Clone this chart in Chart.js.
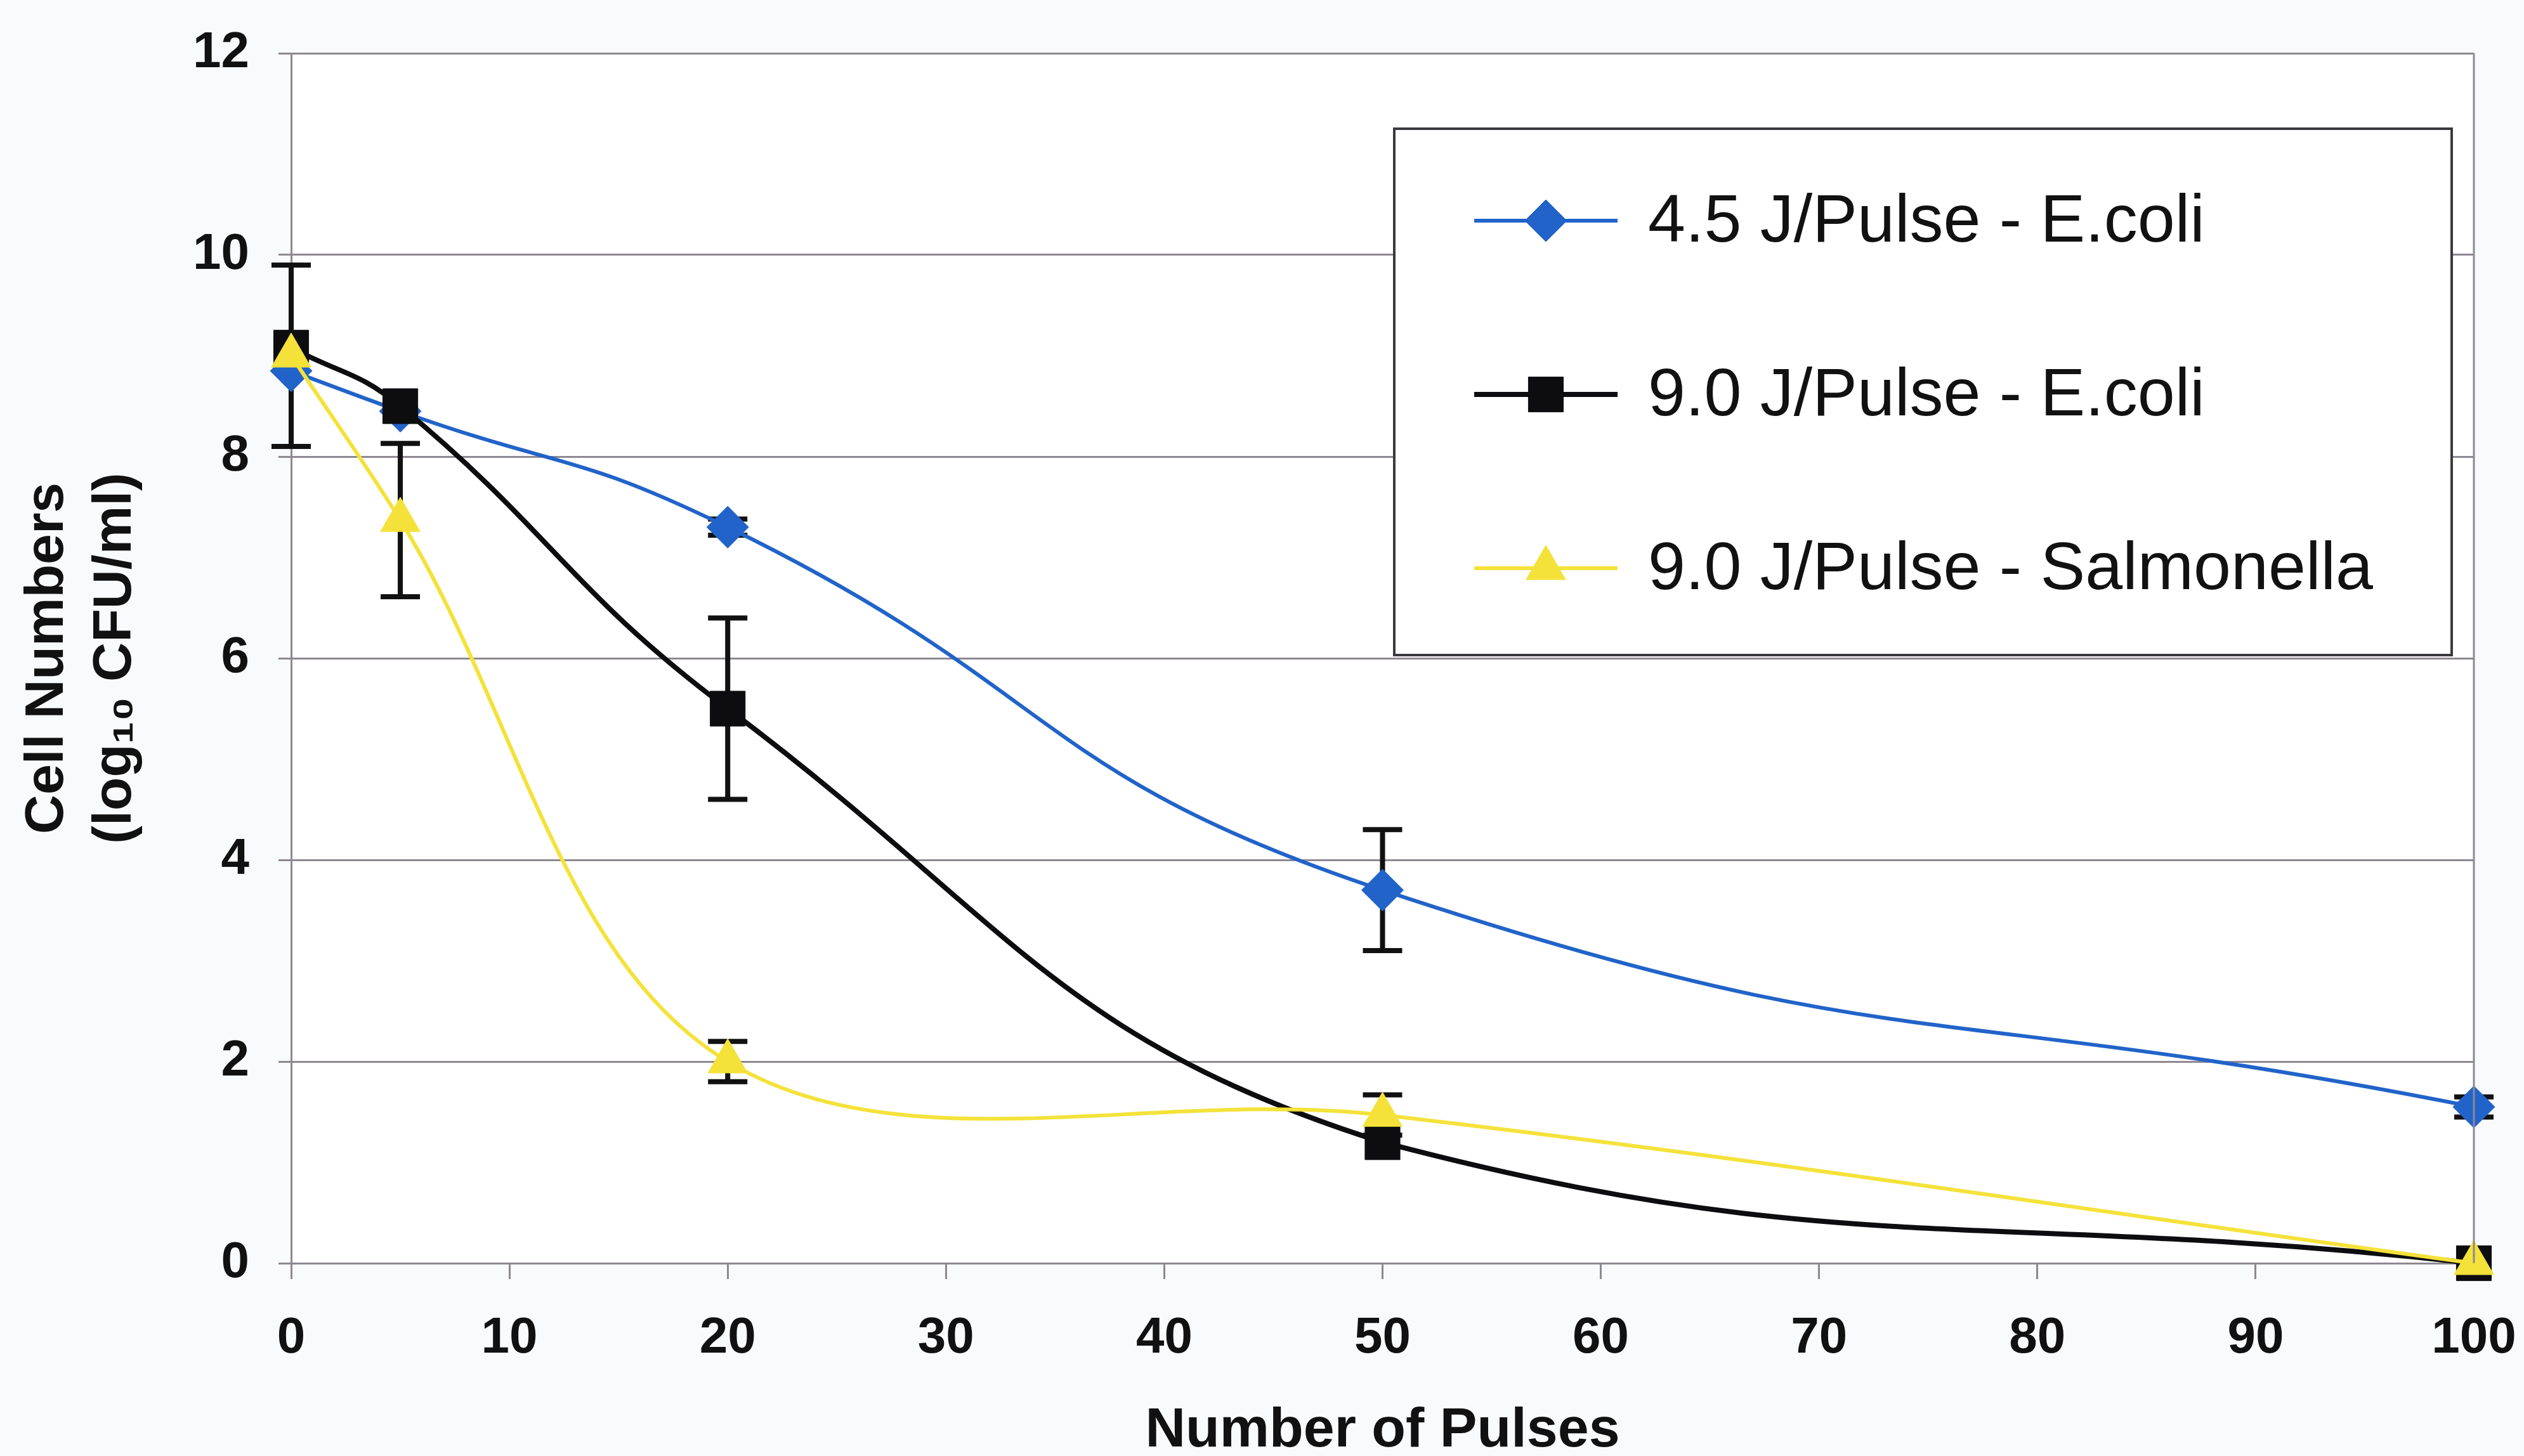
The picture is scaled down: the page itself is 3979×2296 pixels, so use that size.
<!DOCTYPE html>
<html>
<head>
<meta charset="utf-8">
<title>Cell Numbers vs Number of Pulses</title>
<script src="https://cdn.jsdelivr.net/npm/chart.js@4/dist/chart.umd.min.js"></script>
<style>
  html, body { margin: 0; padding: 0; background: #f9fafc; }
  #wrap { width: 3979px; height: 2296px; }
</style>
</head>
<body>
<div id="wrap"><canvas id="chart" width="3979" height="2296"></canvas></div>
<script>
// Number of pulses applied
const pulses = [0, 5, 20, 50, 100];

// Surviving cells, log10 CFU/ml
const ecoli45 = [8.85, 8.45, 7.3, 3.7, 1.55];
const ecoli90 = [9.08, 8.5, 5.5, 1.2, 0];
const salmonella90 = [9.0, 7.37, 2.0, 1.47, 0];

// Standard deviation shown as error bars (null = no bar)
const ecoli45Err = [null, null, 0.08, 0.6, 0.1];
const ecoli90Err = [null, null, 0.9, null, null];
const salmonella90Err = [0.9, 0.76, 0.2, 0.2, null];

const seriesLabels = ['4.5 J/Pulse - E.coli', '9.0 J/Pulse - E.coli', '9.0 J/Pulse - Salmonella'];

const xTicks = [0, 10, 20, 30, 40, 50, 60, 70, 80, 90, 100];
const yTicks = [0, 2, 4, 6, 8, 10, 12];

const BLUE = '#2163c9';
const BLACK = '#0d0d0f';
const YELLOW = '#f4e23a';
const GRID = '#8e8892';
const FONT = '"Liberation Sans", Arial, Helvetica, sans-serif';

const toPoints = (ys) => pulses.map((x, i) => ({ x: x, y: ys[i] }));

function makeSeries(label, ys, errs, color, width, style, radius, order, tension) {
  return {
    label: label,
    data: toPoints(ys),
    errors: errs,
    borderColor: color,
    backgroundColor: color,
    borderWidth: width,
    pointStyle: style,
    pointRadius: radius,
    pointHoverRadius: radius,
    pointBackgroundColor: color,
    pointBorderColor: color,
    pointBorderWidth: 1,
    tension: tension,
    fill: false,
    clip: false,
    order: order
  };
}

// Background fill behind everything, plus the right edge of the plot frame
const backdrop = {
  id: 'backdrop',
  beforeDraw(chart) {
    const ctx = chart.ctx;
    ctx.save();
    ctx.fillStyle = '#f9fafc';
    ctx.fillRect(0, 0, chart.width, chart.height);
    const a = chart.chartArea;
    ctx.fillStyle = '#ffffff';
    ctx.fillRect(a.left, a.top, a.right - a.left, a.bottom - a.top);
    ctx.restore();
  },
  afterDraw(chart) {
    const a = chart.chartArea;
    const ctx = chart.ctx;
    ctx.save();
    ctx.strokeStyle = GRID;
    ctx.lineWidth = 3;
    ctx.beginPath();
    ctx.moveTo(a.right, a.top);
    ctx.lineTo(a.right, a.bottom);
    ctx.stroke();
    ctx.restore();
  }
};

// Vertical error bars with caps, drawn underneath the series
const errorBars = {
  id: 'errorBars',
  beforeDatasetsDraw(chart) {
    const ctx = chart.ctx;
    const xs = chart.scales.x, ys = chart.scales.y;
    ctx.save();
    ctx.strokeStyle = '#111111';
    ctx.lineCap = 'butt';
    ctx.lineWidth = 8;
    chart.data.datasets.forEach((ds) => {
      (ds.errors || []).forEach((e, i) => {
        if (e === null || e === undefined) return;
        const p = ds.data[i];
        const px = xs.getPixelForValue(p.x);
        const top = ys.getPixelForValue(p.y + e);
        const bot = ys.getPixelForValue(p.y - e);
        ctx.beginPath();
        ctx.moveTo(px, top);
        ctx.lineTo(px, bot);
        ctx.moveTo(px - 31, top);
        ctx.lineTo(px + 31, top);
        ctx.moveTo(px - 31, bot);
        ctx.lineTo(px + 31, bot);
        ctx.stroke();
      });
    });
    ctx.restore();
  }
};

// Boxed legend placed inside the upper right of the plot
const boxLegend = {
  id: 'boxLegend',
  afterDraw(chart, args, opts) {
    const ctx = chart.ctx;
    const b = opts.box;
    ctx.save();
    ctx.fillStyle = '#ffffff';
    ctx.fillRect(b.x, b.y, b.w, b.h);
    ctx.strokeStyle = '#3a3a3e';
    ctx.lineWidth = 4;
    ctx.strokeRect(b.x, b.y, b.w, b.h);
    ctx.font = opts.fontSize + 'px ' + FONT;
    ctx.textBaseline = 'middle';
    ctx.textAlign = 'left';
    chart.data.datasets.forEach((ds, i) => {
      const cy = b.y + opts.firstRow + i * opts.rowGap;
      const x0 = b.x + opts.lineStart;
      const x1 = b.x + opts.lineEnd;
      ctx.strokeStyle = ds.borderColor;
      ctx.lineWidth = ds.borderWidth;
      ctx.beginPath();
      ctx.moveTo(x0, cy);
      ctx.lineTo(x1, cy);
      ctx.stroke();
      ctx.fillStyle = ds.pointBackgroundColor;
      ctx.strokeStyle = ds.pointBorderColor;
      ctx.lineWidth = 1;
      Chart.helpers.drawPoint(ctx, { pointStyle: ds.pointStyle, radius: ds.pointRadius, rotation: 0, borderWidth: 1 }, (x0 + x1) / 2, cy);
      ctx.fillStyle = '#111111';
      ctx.fillText(ds.label, b.x + opts.textStart, cy + 4);
    });
    ctx.restore();
  }
};

new Chart(document.getElementById('chart'), {
  type: 'line',
  data: {
    datasets: [
      makeSeries(seriesLabels[0], ecoli45, ecoli45Err, BLUE, 6, 'rectRot', 33, 3, 0.5),
      makeSeries(seriesLabels[1], ecoli90, ecoli90Err, BLACK, 8, 'rect', 39, 2, 0.45),
      makeSeries(seriesLabels[2], salmonella90, salmonella90Err, YELLOW, 6, 'triangle', 36, 1, 0.35)
    ]
  },
  plugins: [backdrop, errorBars, boxLegend],
  options: {
    responsive: false,
    devicePixelRatio: 1,
    animation: false,
    events: [],
    layout: { padding: { left: 0, right: 79, top: 84, bottom: 0 } },
    plugins: {
      legend: { display: false },
      tooltip: { enabled: false },
      boxLegend: {
        box: { x: 2198, y: 203, w: 1667, h: 830 },
        fontSize: 106,
        firstRow: 145,
        rowGap: 274,
        lineStart: 126,
        lineEnd: 352,
        textStart: 400
      }
    },
    scales: {
      x: {
        type: 'linear',
        min: 0,
        max: 100,
        afterFit(s) {
          s.height = 304;
          s.paddingLeft = 0;
          s.paddingRight = 0;
        },
        afterBuildTicks(s) { s.ticks = xTicks.map(v => ({ value: v })); },
        ticks: {
          color: '#111111',
          font: { family: FONT, size: 80, weight: 'bold' },
          padding: 46,
          maxRotation: 0,
          autoSkip: false
        },
        grid: {
          drawOnChartArea: false,
          drawTicks: true,
          tickLength: 25,
          color: GRID,
          lineWidth: 3
        },
        border: { display: true, color: GRID, width: 3 },
        title: {
          display: true,
          text: 'Number of Pulses',
          color: '#111111',
          font: { family: FONT, size: 88, weight: 'bold', lineHeight: 0.9 },
          padding: { top: 0, bottom: 0 }
        }
      },
      y: {
        type: 'linear',
        min: 0,
        max: 12,
        afterFit(s) {
          s.width = 459;
          s.paddingTop = 0;
          s.paddingBottom = 0;
        },
        afterBuildTicks(s) { s.ticks = yTicks.map(v => ({ value: v })); },
        ticks: {
          color: '#111111',
          font: { family: FONT, size: 80, weight: 'bold' },
          padding: 46
        },
        grid: {
          drawOnChartArea: true,
          drawTicks: true,
          tickLength: 20,
          color: GRID,
          lineWidth: 3
        },
        border: { display: true, color: GRID, width: 3 },
        title: {
          display: true,
          text: ['Cell Numbers', '(log\u2081\u2080 CFU/ml)'],
          color: '#111111',
          font: { family: FONT, size: 86, weight: 'bold', lineHeight: '107px' },
          padding: { top: 22, bottom: 0 }
        }
      }
    }
  }
});
</script>
</body>
</html>
